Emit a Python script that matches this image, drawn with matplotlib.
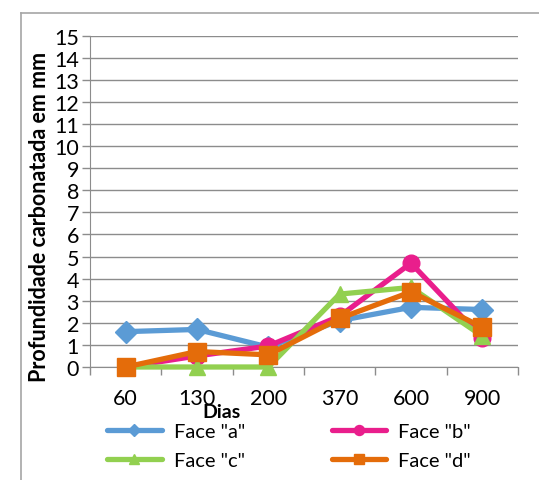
import numpy as np
import matplotlib.pyplot as plt
from matplotlib.lines import Line2D

dias = ["60", "130", "200", "370", "600", "900"]
face_a = [1.6, 1.7, 0.9, 2.1, 2.7, 2.6]
face_b = [0.0, 0.5, 0.95, 2.3, 4.7, 1.3]
face_c = [0.0, 0.0, 0.0, 3.3, 3.6, 1.4]
face_d = [0.0, 0.7, 0.55, 2.2, 3.4, 1.8]

plt.rcParams['font.family'] = ['Lato', 'DejaVu Sans']

fig = plt.figure(figsize=(5.39, 4.81), dpi=100)
ax = fig.add_axes([90 / 539, 1 - 368 / 481, 428 / 539, 331.5 / 481])

x = np.arange(len(dias))
series = [
    (face_a, 'Face "a"', "#5B9BD5", "D", 11),
    (face_b, 'Face "b"', "#E91E8C", "o", 12),
    (face_c, 'Face "c"', "#92D050", "^", 12),
    (face_d, 'Face "d"', "#E46C0A", "s", 13),
]
handles = {}
for vals, lab, col, mk, ms in series:
    ax.plot(x, vals, color=col, lw=3.8, marker=mk, ms=ms, clip_on=False,
            solid_capstyle="round", zorder=3)
    handles[lab] = Line2D([], [], color=col, lw=3.8, marker=mk, ms=ms * 0.6,
                          solid_capstyle="round", label=lab)

ax.set_xlim(-0.5, len(dias) - 0.5)
ax.set_ylim(0, 15)
ax.set_yticks(range(0, 16))
ax.set_xticks(x)
ax.set_xticklabels(dias)
ax.set_xticks(np.arange(-0.5, len(dias)), minor=True)
ax.tick_params(axis="x", which="major", length=0, labelsize=15.5, pad=15)
ax.tick_params(axis="x", which="minor", length=6, color="#8c8c8c", width=1)
ax.tick_params(axis="y", length=6, color="#8c8c8c", width=1, labelsize=15.5, pad=2)
ax.yaxis.grid(True, color="#8c8c8c", lw=1)
ax.set_axisbelow(True)
for s in ["top", "right"]:
    ax.spines[s].set_visible(False)
ax.spines["left"].set_color("#8c8c8c")
ax.spines["bottom"].set_color("#8c8c8c")

fig.text(40 / 539, 1 - 217 / 481, "Profundidade carbonatada em mm", rotation=90,
         ha="center", va="center", fontsize=15.5, fontweight="bold")
fig.text(222 / 539, 1 - 412 / 481, "Dias", ha="center", va="center",
         fontsize=14, fontweight="bold")

order = ['Face "a"', 'Face "c"', 'Face "b"', 'Face "d"']
fig.legend(handles=[handles[k] for k in order], loc="center",
           bbox_to_anchor=(289 / 539, 1 - 447 / 481),
           ncol=2, frameon=False, fontsize=14.5, handlelength=2.7,
           columnspacing=4.3, labelspacing=0.55, handletextpad=0.6)

fig.add_artist(Line2D([21 / 539, 21 / 539], [0, 1 - 14 / 481], color="#a6a6a6",
                      lw=1.2, transform=fig.transFigure))
fig.add_artist(Line2D([21 / 539, 1], [1 - 14 / 481, 1 - 14 / 481], color="#a6a6a6",
                      lw=1.2, transform=fig.transFigure))

fig.savefig("out.png", dpi=100)
